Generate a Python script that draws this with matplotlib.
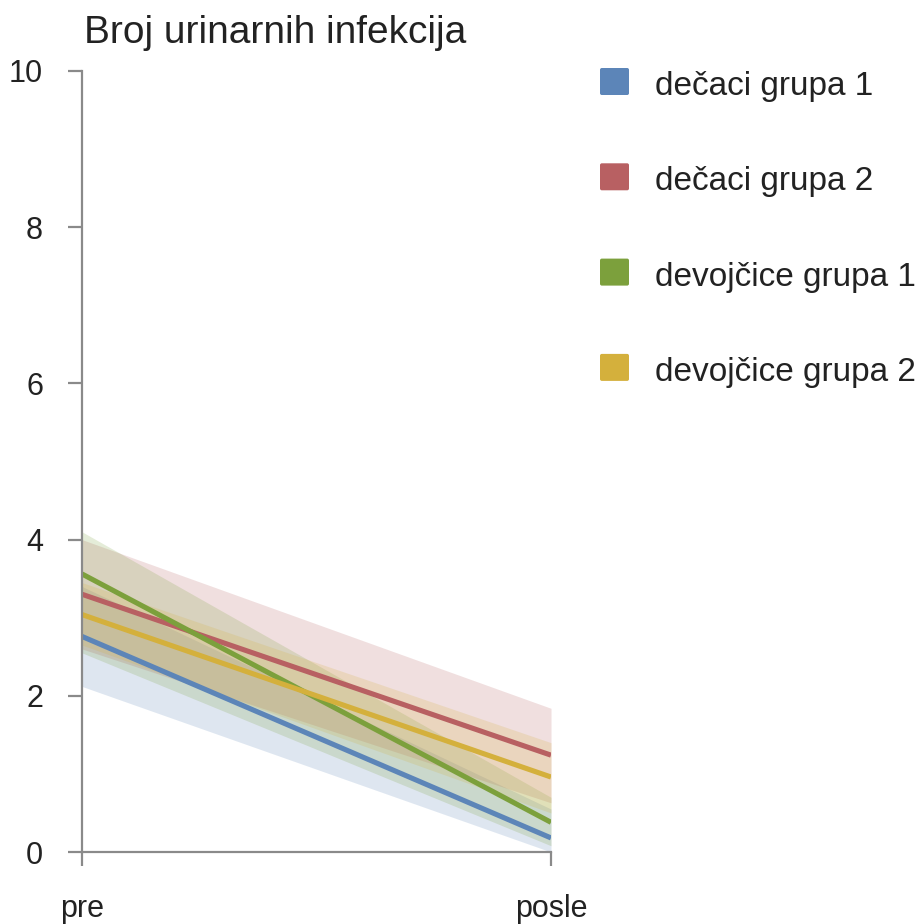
import matplotlib
matplotlib.use("Agg")
import matplotlib.pyplot as plt
from matplotlib.patches import FancyBboxPatch

plt.rcParams['font.family'] = ['Liberation Sans', 'DejaVu Sans']

categories = ["pre", "posle"]
series_names = ["dečaci grupa 1", "dečaci grupa 2", "devojčice grupa 1", "devojčice grupa 2"]
means = {
    "dečaci grupa 1": [2.76, 0.18],
    "dečaci grupa 2": [3.30, 1.24],
    "devojčice grupa 1": [3.56, 0.38],
    "devojčice grupa 2": [3.04, 0.96],
}
lower = {
    "dečaci grupa 1": [2.12, 0.0],
    "dečaci grupa 2": [2.60, 0.63],
    "devojčice grupa 1": [2.55, 0.08],
    "devojčice grupa 2": [2.65, 0.50],
}
upper = {
    "dečaci grupa 1": [3.40, 0.55],
    "dečaci grupa 2": [4.00, 1.84],
    "devojčice grupa 1": [4.10, 0.70],
    "devojčice grupa 2": [3.45, 1.40],
}
colors = ["#5c85b8", "#b86062", "#7ca03c", "#d4b03c"]
y_ticks = [0, 2, 4, 6, 8, 10]
title = "Broj urinarnih infekcija"

W = 924
fig = plt.figure(figsize=(9.24, 9.24), dpi=100)
ax = fig.add_axes([82/W, 1-852/W, (551-82)/W, (852-71)/W])
x = list(range(len(categories)))
for name, c in zip(series_names, colors):
    ax.fill_between(x, lower[name], upper[name], color=c, alpha=0.2, linewidth=0)
for name, c in zip(series_names, colors):
    ax.plot(x, means[name], color=c, linewidth=3.7, solid_capstyle='butt')

ax.set_xlim(0, 1)
ax.set_ylim(0, 10)
ax.set_yticks(y_ticks)
ax.set_xticks(x)
ax.set_xticklabels(categories)
for s in ["top", "right"]:
    ax.spines[s].set_visible(False)
for s in ["left", "bottom"]:
    ax.spines[s].set_color("#8a8a8a")
    ax.spines[s].set_linewidth(1.6)
ax.tick_params(axis='y', direction='out', length=10, width=1.6, color="#8a8a8a",
               labelsize=22, labelcolor="#222222", pad=18)
ax.tick_params(axis='x', direction='out', length=10, width=1.6, color="#8a8a8a",
               labelsize=22, labelcolor="#222222", pad=20)

fig.text(84/W, 1-43/W, title, fontsize=28, color="#222222", ha='left', va='baseline')

for i, (name, c) in enumerate(zip(series_names, colors)):
    yc = 81.5 + i * 95.3
    fig.patches.append(FancyBboxPatch((600/W, 1-(yc+13.5)/W), 29/W, 27/W,
                                      boxstyle="round,pad=0,rounding_size=0.002",
                                      transform=fig.transFigure, facecolor=c,
                                      edgecolor='none', figure=fig))
    fig.text(655/W, 1-(yc+13.5)/W, name, fontsize=24, color="#222222",
             ha='left', va='baseline')

fig.savefig("out.png", dpi=100)
